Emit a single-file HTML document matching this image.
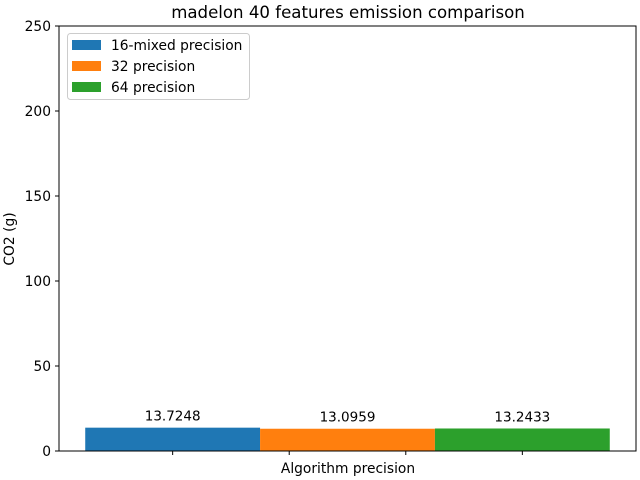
<!DOCTYPE html>
<html><head><meta charset="utf-8"><style>
body{margin:0;background:#fff;}
svg{display:block;font-family:"DejaVu Sans","Liberation Sans",sans-serif;}
</style></head><body>
<svg id="chart" width="640" height="480">
<rect width="640" height="480" fill="#fff"/>
<text x="348" y="18" font-size="16.6" text-anchor="middle">madelon 40 features emission comparison</text>
<g id="plot"></g>
<text x="348" y="473" font-size="13.8" text-anchor="middle">Algorithm precision</text>
<text transform="translate(14,239) rotate(-90)" font-size="13.8" text-anchor="middle">CO2 (g)</text>
</svg>
<script>
const categories = ["16-mixed precision","32 precision","64 precision"];
const values = [13.7248, 13.0959, 13.2433];
const labels = ["13.7248","13.0959","13.2433"];
const colors = ["#1f77b4","#ff7f0e","#2ca02c"];
const yTicks = [0,50,100,150,200,250];
const xTicks = [0,1,2,3];
const L=59,R=636,T=26,B=451;
const xMin=-0.975,xMax=3.975,yMax=250;
const sx=v=>L+(v-xMin)/(xMax-xMin)*(R-L);
const sy=v=>B-v/yMax*(B-T);
const ns="http://www.w3.org/2000/svg";
const g=document.getElementById('plot');
function mk(tag,attrs){const e=document.createElementNS(ns,tag);for(const k in attrs)e.setAttribute(k,attrs[k]);g.appendChild(e);return e;}
const bw=1.5;
values.forEach((v,i)=>{
  const c=i*1.5;
  const r=mk('rect',{x:sx(c-bw/2),y:sy(v),width:sx(c+bw/2)-sx(c-bw/2),height:sy(0)-sy(v),fill:colors[i]});
  
  
  const t=mk('text',{x:sx(c),y:sy(v)-7,'font-size':13.5,'text-anchor':'middle'});
  t.textContent=labels[i];
  
  
});
yTicks.forEach(v=>{
  const y=sy(v);
  mk('line',{x1:L-4,x2:L,y1:y,y2:y,stroke:'#000','stroke-width':1});
  const t=mk('text',{x:L-8,y:y+5,'font-size':13.8,'text-anchor':'end'});
  t.textContent=v;
  
  
});
xTicks.forEach(v=>{
  const x=sx(v);
  const l=mk('line',{x1:x,x2:x,y1:B,y2:B+4,stroke:'#000','stroke-width':1});
  
  
});
const fr=mk('rect',{x:L,y:T,width:R-L,height:B-T,fill:'none',stroke:'#000','stroke-width':1});


const lg=mk('rect',{x:67.5,y:33.5,width:182,height:66,rx:3,fill:'#fff','fill-opacity':0.8,stroke:'#ccc'});


categories.forEach((c,i)=>{
  const y=45+i*21;
  const p=mk('rect',{x:72,y:y-5,width:29,height:10,fill:colors[i]});
  
  
  const t=mk('text',{x:111,y:y+5,'font-size':13.8});
  t.textContent=c;
  
  
});
</script>
</body></html>
